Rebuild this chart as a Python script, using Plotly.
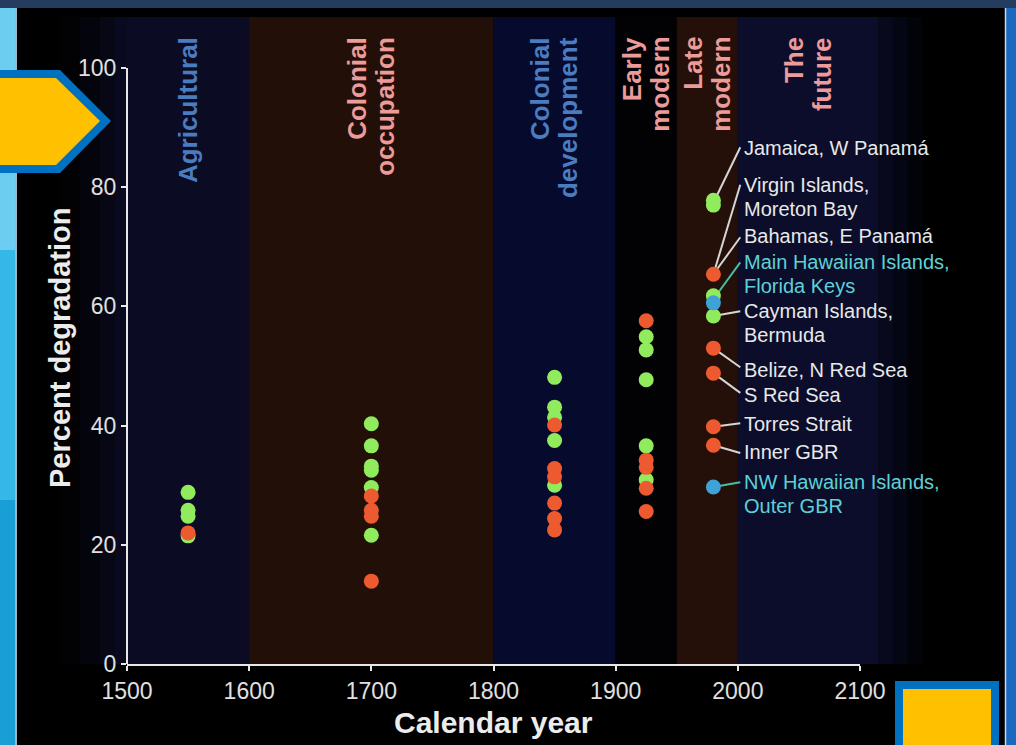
import plotly.graph_objects as go

# ---------------- data ----------------
green_years = [1550, 1550, 1550, 1550,
               1700, 1700, 1700, 1700, 1700, 1700,
               1850, 1850, 1850, 1850, 1850,
               1925, 1925, 1925, 1925, 1925,
               1980, 1980, 1980, 1980]
green_values = [28.8, 25.8, 24.8, 21.5,
                40.3, 36.6, 33.2, 32.5, 29.6, 21.6,
                48.1, 43.1, 41.4, 37.5, 30.0,
                54.9, 52.7, 47.7, 36.6, 30.9,
                77.8, 77.0, 61.8, 58.4]

red_years = [1550,
             1700, 1700, 1700, 1700,
             1850, 1850, 1850, 1850, 1850, 1850,
             1925, 1925, 1925, 1925, 1925,
             1980, 1980, 1980, 1980, 1980]
red_values = [22.0,
              28.2, 25.8, 24.8, 13.9,
              40.1, 32.8, 31.4, 27.0, 24.4, 22.5,
              57.6, 34.2, 33.0, 29.5, 25.6,
              65.4, 53.0, 48.8, 39.8, 36.7]

blue_years = [1980, 1980]
blue_values = [60.6, 29.7]

period_names = ["Agricultural", "Colonial<br>occupation", "Colonial<br>development",
                "Early<br>modern", "Late<br>modern", "The<br>future"]
period_start = [1500, 1600, 1800, 1900, 1950, 2000]
period_end = [1600, 1800, 1900, 1950, 2000, 2115]

x_ticks = [1500, 1600, 1700, 1800, 1900, 2000, 2100]
y_ticks = [0, 20, 40, 60, 80, 100]

site_labels = ["Jamaica, W Panamá", "Virgin Islands,<br>Moreton Bay", "Bahamas, E Panamá",
               "Main Hawaiian Islands,<br>Florida Keys", "Cayman Islands,<br>Bermuda",
               "Belize, N Red Sea", "S Red Sea", "Torres Strait", "Inner GBR",
               "NW Hawaiian Islands,<br>Outer GBR"]
site_year = 1980
site_values = [77.4, 65.4, 65.4, 61.2, 58.4, 53.0, 48.8, 39.8, 36.7, 29.7]

# ---------------- layout / style ----------------
W_FIG, H_FIG = 1016, 745
L, R, T, B = 127, 156, 17, 81
PW, PH = W_FIG - L - R, H_FIG - T - B
X_RANGE = [1500, 2100]
Y_RANGE = [0, 108.56]

label_y = [86.6, 78.4, 71.8, 65.4, 57.2, 49.3, 45.1, 40.3, 35.6, 28.5]
leader_end_y = [86.7, 80.4, 71.6, 67.4, 59.2, 49.8, 45.5, 40.4, 35.4, 30.5]
label_x = 2003
leader_end_x = 2002
label_line_gap = 24
cyan_sites = {3, 9}

period_fill = ["#0b0c24", "#221008", "#060a2c", "#020204", "#241008", "#0c0d2a"]
period_text = ["#4a7cc0", "#ec9a9a", "#4a7cc0", "#ec9a9a", "#ec9a9a", "#ec9a9a"]

GREEN, RED, BLUE = "#90ec5c", "#ee5a30", "#3fa2d6"
FONT = "Liberation Sans, Arial, sans-serif"


def xp(px):
    return (px - L) / PW


def yp(py):
    return (T + PH - py) / PH


def year_to_paper(v):
    return (v - X_RANGE[0]) / (X_RANGE[1] - X_RANGE[0])


def val_to_paper(v):
    return (v - Y_RANGE[0]) / (Y_RANGE[1] - Y_RANGE[0])


fig = go.Figure()
marker_size = 15
for xs, ys, col in [(green_years, green_values, GREEN),
                    (red_years, red_values, RED),
                    (blue_years, blue_values, BLUE)]:
    fig.add_trace(go.Scatter(x=xs, y=ys, mode="markers",
                             marker=dict(color=col, size=marker_size, line=dict(width=0)),
                             showlegend=False, hoverinfo="x+y"))

shapes = []
# left fade of the background
for a, b, op in [(60, 80, 0.15), (80, 100, 0.35), (100, 115, 0.6), (115, 127, 0.85)]:
    shapes.append(dict(type="rect", xref="paper", yref="paper", x0=xp(a), x1=xp(b),
                       y0=0, y1=1, fillcolor="#0b0c24", opacity=op, line_width=0, layer="below"))
# period bands
for s, e, c in zip(period_start, period_end, period_fill):
    shapes.append(dict(type="rect", xref="paper", yref="paper",
                       x0=year_to_paper(s), x1=year_to_paper(e), y0=0, y1=1,
                       fillcolor=c, line_width=0, layer="below"))
# fade of the future band
fe = period_end[-1]
for a, b, op in [(fe, fe + 12, 0.7), (fe + 12, fe + 24, 0.45), (fe + 24, fe + 36, 0.2)]:
    shapes.append(dict(type="rect", xref="paper", yref="paper",
                       x0=year_to_paper(a), x1=year_to_paper(b), y0=0, y1=1,
                       fillcolor=period_fill[-1], opacity=op, line_width=0, layer="below"))
# leader lines
for i, (v, ey) in enumerate(zip(site_values, leader_end_y)):
    col = "#45bfa0" if i in cyan_sites else "#d6d6d6"
    shapes.append(dict(type="line", xref="x", yref="y", x0=site_year, y0=v,
                       x1=leader_end_x, y1=ey, line=dict(color=col, width=2), layer="below"))
# y axis line (0..100)
shapes.append(dict(type="line", xref="paper", yref="paper", x0=0, x1=0,
                   y0=val_to_paper(0), y1=val_to_paper(100),
                   line=dict(color="#e8e8e8", width=2)))

# ---- page decorations ----
shapes.append(dict(type="rect", xref="paper", yref="paper", x0=xp(0), x1=xp(1016),
                   y0=yp(0), y1=yp(8), fillcolor="#243c5e", line_width=0, layer="above"))
for a, b, c in [(8, 250, "#6ccdf0"), (250, 500, "#35b8e8"), (500, 745, "#1a9ed6")]:
    shapes.append(dict(type="rect", xref="paper", yref="paper", x0=xp(0), x1=xp(15),
                       y0=yp(a), y1=yp(b), fillcolor=c, line_width=0, layer="above"))
shapes.append(dict(type="line", xref="paper", yref="paper", x0=xp(16), x1=xp(16),
                   y0=yp(8), y1=yp(745), line=dict(color="#9fb4c4", width=2), layer="above"))
shapes.append(dict(type="rect", xref="paper", yref="paper", x0=xp(1006), x1=xp(1016),
                   y0=yp(8), y1=yp(745), fillcolor="#1a68c0", line_width=0, layer="above"))
shapes.append(dict(type="line", xref="paper", yref="paper", x0=xp(1005.5), x1=xp(1005.5),
                   y0=yp(8), y1=yp(745), line=dict(color="#c8d8e8", width=1.5), layer="above"))


def path(pts):
    return "M " + " L ".join(f"{xp(a):.5f},{yp(b):.5f}" for a, b in pts) + " Z"


shapes.append(dict(type="path", xref="paper", yref="paper",
                   path=path([(0, 70), (60, 70), (111, 121), (60, 173), (0, 173)]),
                   fillcolor="#0070c0", line_width=0, layer="above"))
shapes.append(dict(type="path", xref="paper", yref="paper",
                   path=path([(0, 78), (56, 78), (100, 121), (56, 165), (0, 165)]),
                   fillcolor="#ffc000", line_width=0, layer="above"))
shapes.append(dict(type="rect", xref="paper", yref="paper", x0=xp(895), x1=xp(999),
                   y0=yp(681), y1=yp(746), fillcolor="#0070c0", line_width=0, layer="above"))
shapes.append(dict(type="rect", xref="paper", yref="paper", x0=xp(903), x1=xp(991),
                   y0=yp(689), y1=yp(746), fillcolor="#ffc000", line_width=0, layer="above"))

annotations = []
# period labels (one annotation per line, aligned at the top)
line_gap = 28
for name, s, e, col in zip(period_names, period_start, period_end, period_text):
    lines = name.split("<br>")
    n = len(lines)
    for k, ln in enumerate(lines):
        annotations.append(dict(text=ln, xref="paper", yref="paper",
                                x=year_to_paper((s + e) / 2), y=yp(35),
                                xshift=(k - (n - 1) / 2) * line_gap,
                                xanchor="center", yanchor="top", textangle=-90,
                                showarrow=False,
                                font=dict(family=FONT, size=26, color=col, weight="bold")))
# site labels (one annotation per line)
for i, (txt, ly) in enumerate(zip(site_labels, label_y)):
    col = "#5fd0d8" if i in cyan_sites else "#e8e8e8"
    lines = txt.split("<br>")
    n = len(lines)
    for k, ln in enumerate(lines):
        annotations.append(dict(text=ln, xref="x", yref="y", x=label_x, y=ly,
                                yshift=-(k - (n - 1) / 2) * label_line_gap,
                                xanchor="left", yanchor="middle", align="left",
                                showarrow=False,
                                font=dict(family=FONT, size=20, color=col)))
# axis titles
annotations.append(dict(text="Percent degradation", xref="paper", yref="paper",
                        x=xp(60), y=yp(348), textangle=-90, showarrow=False,
                        xanchor="center", yanchor="middle",
                        font=dict(family=FONT, size=29, color="#ececec", weight="bold")))
annotations.append(dict(text="Calendar year", xref="paper", yref="paper",
                        x=xp(493), y=yp(722), showarrow=False,
                        xanchor="center", yanchor="middle",
                        font=dict(family=FONT, size=30, color="#ececec", weight="bold")))

fig.update_layout(
    width=W_FIG, height=H_FIG, autosize=False,
    margin=dict(l=L, r=R, t=T, b=B, pad=0),
    paper_bgcolor="#000000", plot_bgcolor="#000000",
    shapes=shapes, annotations=annotations,
    xaxis=dict(range=X_RANGE, tickvals=x_ticks, ticks="outside", ticklen=5, tickwidth=2,
               tickcolor="#e8e8e8", showline=True, linecolor="#e8e8e8", linewidth=2,
               showgrid=False, zeroline=False,
               tickfont=dict(family=FONT, size=23, color="#e0e0e0")),
    yaxis=dict(range=Y_RANGE, tickvals=y_ticks, ticks="outside", ticklen=5, tickwidth=2,
               tickcolor="#e8e8e8", showline=False, showgrid=False, zeroline=False,
               tickfont=dict(family=FONT, size=23, color="#e0e0e0")),
)

fig.write_html("out.html",
               config={"displayModeBar": False},
               post_script="document.body.style.margin='0px';"
                           "document.body.style.overflow='hidden';"
                           "document.body.style.background='#000';")
